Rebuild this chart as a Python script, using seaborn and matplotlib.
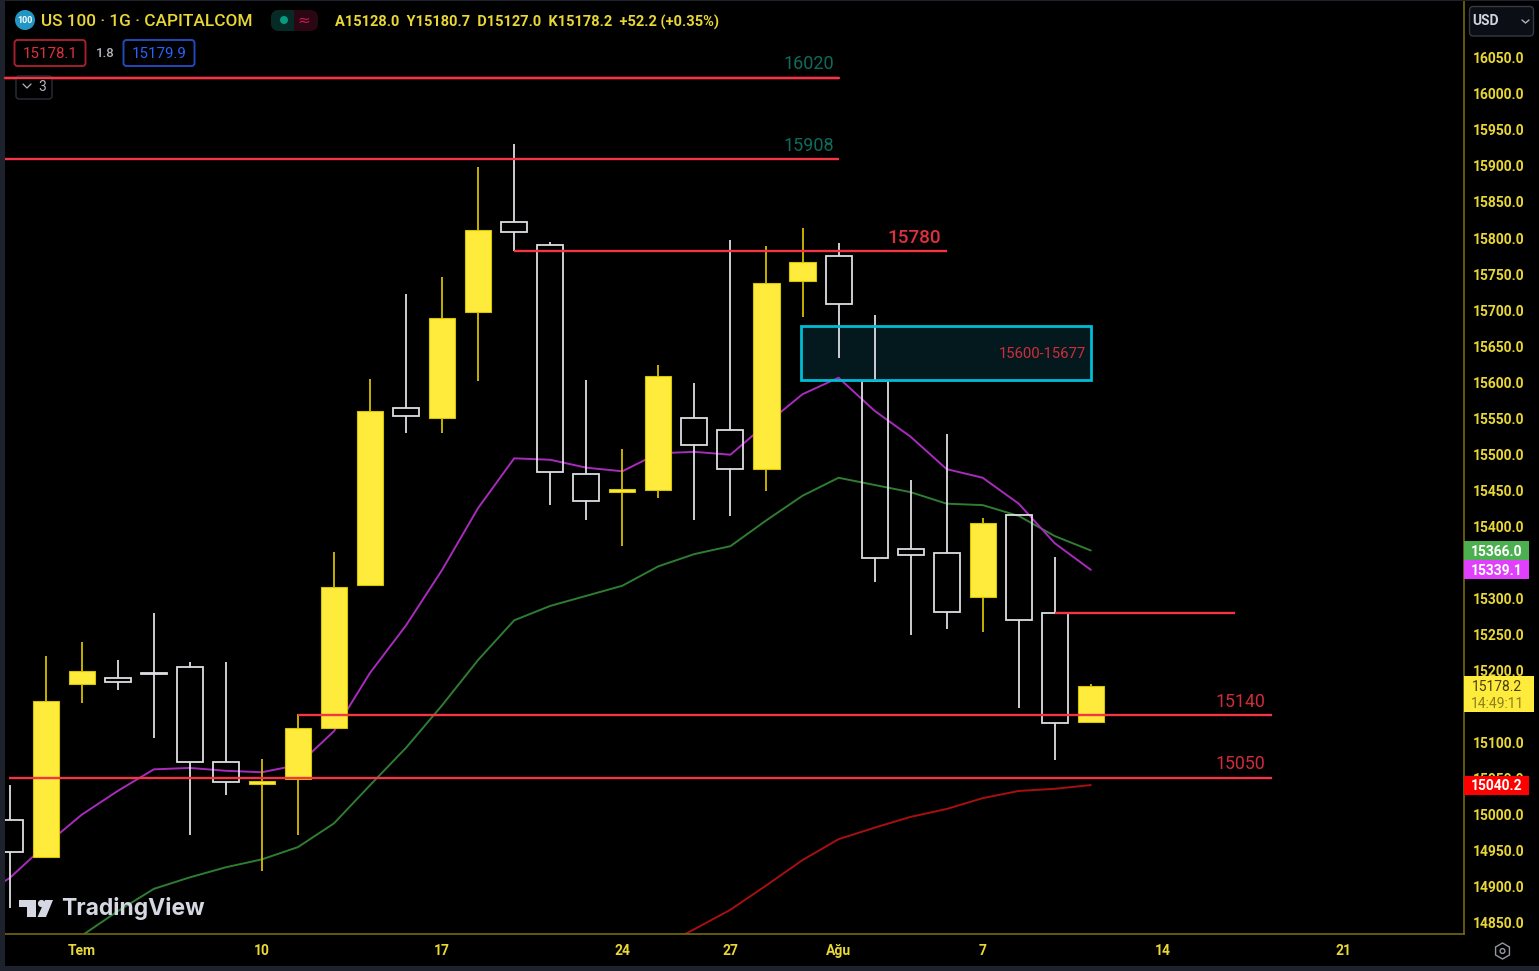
import numpy as np
import pandas as pd
import matplotlib
matplotlib.use("Agg")
import matplotlib.pyplot as plt
import seaborn as sns
from matplotlib.patches import Rectangle, FancyBboxPatch, Circle, Polygon, RegularPolygon

# ---- candles (first one is cut off by the left edge) ----
candle_idx = list(range(-2, 29))
opens = [14992, 14940, 15181, 15189, 15196, 15204, 15072, 15042, 15049, 15119, 15318, 15564, 15550, 15697,
         15822, 15790, 15472, 15447, 15450, 15550, 15533, 15479, 15740, 15775, 15601, 15368, 15362, 15301,
         15415, 15279, 15128]
highs = [15040, 15219, 15239, 15214, 15279, 15211, 15211, 15076, 15139, 15364, 15604, 15722, 15746, 15899,
         15931, 15794, 15603, 15507, 15624, 15599, 15797, 15789, 15814, 15793, 15693, 15464, 15528, 15411,
         15415, 15357, 15181]
lows = [14869, 14940, 15154, 15172, 15105, 14971, 15026, 14921, 14971, 15119, 15318, 15529, 15529, 15601,
        15782, 15429, 15408, 15372, 15439, 15408, 15414, 15449, 15690, 15633, 15322, 15249, 15257, 15253,
        15147, 15075, 15127]
closes = [14947, 15157, 15199, 15183, 15194, 15072, 15044, 15046, 15119, 15315, 15560, 15553, 15689, 15811,
          15808, 15475, 15435, 15451, 15608, 15513, 15479, 15737, 15767, 15708, 15356, 15360, 15281, 15404,
          15269, 15126, 15178.2]

# ---- moving averages ----
ema_fast_idx = list(range(-3, 29))
ema_fast = [14880, 14911, 14957, 14999, 15032, 15062, 15064, 15060, 15058, 15068, 15115, 15196, 15262, 15339,
            15425, 15494, 15492, 15481, 15476, 15501, 15503, 15499, 15542, 15583, 15606, 15560, 15524, 15479,
            15467, 15431, 15376, 15339.1]
ema_mid_idx = list(range(0, 29))
ema_mid = [14831, 14865, 14896, 14912, 14926, 14937, 14954, 14987, 15040, 15092, 15151, 15214, 15269, 15289,
           15303, 15317, 15344, 15361, 15372, 15408, 15442, 15467, 15457, 15447, 15431, 15429, 15414, 15386,
           15366.0]
ema_slow_idx = list(range(16, 29))
ema_slow = [14814, 14840, 14867, 14901, 14936, 14965, 14981, 14996, 15007, 15022, 15032, 15035, 15040.2]

# ---- drawn levels: price, first x, last x ----
level_prices = [16022, 15910, 15782, 15279, 15137.5, 15050]
level_starts = [-2.3, -2.3, 12, 27, 6, -2.03]
level_ends = [21, 21, 24, 32, 33.03, 33.03]
zone_low, zone_high = 15603, 15678
zone_x = (19.97, 28.0)

y_ticks = list(range(14850, 16051, 50))
hidden_ticks = [15150, 15350]  # covered by the price tags
x_tick_pos = [0, 5, 10, 15, 18, 21, 25, 30, 35]
x_tick_labels = ["Tem", "10", "17", "24", "27", "Ağu", "7", "14", "21"]

YEL = "#e8d735"
BODY = "#ffeb3b"
WICK_Y = "#d4bd00"
WHITE = "#dcdee3"
RED = "#f23645"
TXT_RED = "#d02c3c"
AXIS = "#75680f"

W, H = 1539, 971
PX_ZERO = 81.7
PX_STEP = 36.04
PX_PER_PRICE = 0.72

sns.set_theme(style="dark", rc={"axes.facecolor": "black", "figure.facecolor": "black"})
plt.rcParams["font.family"] = ["Roboto", "DejaVu Sans"]

fig = plt.figure(figsize=(W / 100, H / 100), dpi=100)
ax = fig.add_axes([5 / W, (H - 934) / H, 1459 / W, 934 / H])
ax.set_xlim((5 - PX_ZERO) / PX_STEP, (1464 - PX_ZERO) / PX_STEP)
ax.set_ylim(16050 - (934 - 58) / PX_PER_PRICE, 16050 + 58 / PX_PER_PRICE)

df = pd.DataFrame({"i": candle_idx, "o": opens, "h": highs, "l": lows, "c": closes})
df["up"] = df["c"] >= df["o"]
df["top"] = df[["o", "c"]].max(axis=1)
df["bot"] = df[["o", "c"]].min(axis=1)

# zone fill sits behind the candles, outline goes on top
ax.add_patch(Rectangle((zone_x[0], zone_low), zone_x[1] - zone_x[0], zone_high - zone_low,
                       facecolor="#04191e", edgecolor="none", zorder=1))

# ---- averages ----
sns.lineplot(x=ema_mid_idx, y=ema_mid, color="#2f7d32", lw=1.4, ax=ax, zorder=2, estimator=None)
sns.lineplot(x=ema_slow_idx, y=ema_slow, color="#a80f0f", lw=1.4, ax=ax, zorder=2, estimator=None)
sns.lineplot(x=ema_fast_idx, y=ema_fast, color="#a92bbd", lw=1.4, ax=ax, zorder=2, estimator=None)

# ---- candles ----
for up, wick_c in [(True, WICK_Y), (False, WHITE)]:
    part = df[df["up"] == up]
    ax.vlines(part["i"], part["top"], part["h"], color=wick_c, lw=1.3, zorder=3)
    ax.vlines(part["i"], part["l"], part["bot"], color=wick_c, lw=1.3, zorder=3)

up_df = df[df["up"]]
down_df = df[~df["up"]]
ax.bar(up_df["i"], up_df["top"] - up_df["bot"], bottom=up_df["bot"], width=0.73,
       facecolor=BODY, edgecolor="#d9c400", lw=0.8, zorder=4)
ax.bar(down_df["i"], down_df["top"] - down_df["bot"], bottom=down_df["bot"], width=0.72,
       facecolor="none", edgecolor=WHITE, lw=1.3, zorder=4)

# ---- levels ----
ax.hlines(level_prices, level_starts, level_ends, color=RED, lw=1.7, zorder=5)
ax.add_patch(Rectangle((zone_x[0], zone_low), zone_x[1] - zone_x[0], zone_high - zone_low,
                       facecolor="none", edgecolor="#00bcd4", lw=2, zorder=5))

ax.text(20.17, 16042, "16020", color="#0d6b5b", fontsize=13, ha="center", va="center")
ax.text(20.17, 15928, "15908", color="#0d6b5b", fontsize=13, ha="center", va="center")
ax.text(23.1, 15800, "15780", color="#e0303f", fontsize=13.6, ha="center", va="center", weight="medium")
ax.text(27.88, 15639, "15600-15677", color=TXT_RED, fontsize=10.7, ha="right", va="center")
ax.text(32.83, 15156, "15140", color=TXT_RED, fontsize=12.8, ha="right", va="center")
ax.text(32.83, 15070, "15050", color=TXT_RED, fontsize=12.8, ha="right", va="center")

# ---- axes ----
ax.set_xlabel("")
ax.set_ylabel("")
ax.grid(False)
ax.set_yticks(y_ticks)
ax.set_yticklabels(["" if v in hidden_ticks else f"{v:.1f}" for v in y_ticks])
ax.yaxis.tick_right()
ax.set_xticks(x_tick_pos)
ax.set_xticklabels(x_tick_labels)
ax.tick_params(axis="y", length=0, pad=6.3, labelsize=10, labelcolor=YEL)
ax.tick_params(axis="x", length=0, pad=7.5, labelsize=10, labelcolor=YEL)
for lab in ax.get_yticklabels() + ax.get_xticklabels():
    lab.set_fontweight("bold")
for side in ["left", "top"]:
    ax.spines[side].set_visible(False)
for side in ["right", "bottom"]:
    ax.spines[side].set_color(AXIS)
    ax.spines[side].set_linewidth(1.2)
    ax.spines[side].set_visible(True)

# ---- price tags on the scale ----
ytrans = ax.get_yaxis_transform()
tag_w = 65 / 1459
tag_h = 19 / PX_PER_PRICE
for value, colour in [(15366.0, "#4caf50"), (15339.1, "#e040fb"), (15040.2, "#ff0000")]:
    ax.add_patch(Rectangle((1.0, value - tag_h / 2), tag_w, tag_h, transform=ytrans, facecolor=colour,
                           edgecolor="none", clip_on=False, zorder=6))
    ax.text(1 + 33 / 1459, value - 1.5, f"{value:.1f}", transform=ytrans, color="white", fontsize=10,
            weight="bold", ha="center", va="center", zorder=7)
ax.add_patch(Rectangle((1.0, 15141.7), 70 / 1459, 50, transform=ytrans, facecolor=BODY,
                       edgecolor="none", clip_on=False, zorder=6))
ax.text(1 + 33 / 1459, 15177, "15178.2", transform=ytrans, color="#45400c", fontsize=10, ha="center",
        va="center", zorder=7)
ax.text(1 + 33 / 1459, 15153, "14:49:11", transform=ytrans, color="#8a7f1c", fontsize=10, ha="center",
        va="center", zorder=7)

# ---- chrome, placed in screen pixels ----
ui = fig.add_axes([0, 0, 1, 1], zorder=10)
ui.set_xlim(0, W)
ui.set_ylim(H, 0)
ui.axis("off")
ui.patch.set_alpha(0)

ui.add_patch(Rectangle((0, 0), 4.5, H, facecolor="#1e222d", edgecolor="none"))
ui.add_patch(Rectangle((0, 0), W, 1.5, facecolor="#1e222d", edgecolor="none"))
ui.add_patch(Rectangle((0, 966), W, 5, facecolor="#1e222d", edgecolor="none"))

ui.add_patch(Circle((25, 20), 10, facecolor="#2196c4", edgecolor="none"))
ui.text(25, 20.5, "100", color="white", fontsize=6.5, weight="bold", ha="center", va="center")
ui.text(41, 21, "US 100 · 1G · CAPITALCOM", color=YEL, fontsize=12.45, ha="left", va="center", weight="medium")
ui.text(335, 22, "A15128.0  Y15180.7  D15127.0  K15178.2  +52.2 (+0.35%)", color=YEL, fontsize=10.5,
        ha="left", va="center", weight="bold")

# status pill
ui.add_patch(FancyBboxPatch((271, 10), 47, 21, boxstyle="round,pad=0,rounding_size=8", facecolor="#2b0714",
                            edgecolor="none"))
ui.add_patch(FancyBboxPatch((271, 10), 30, 21, boxstyle="round,pad=0,rounding_size=8", facecolor="#062b26",
                            edgecolor="none"))
ui.add_patch(Rectangle((294, 10), 10, 21, facecolor="#2b0714", edgecolor="none"))
ui.add_patch(Circle((284, 20), 4, facecolor="#089981", edgecolor="none"))
ui.text(304, 20, "≈", color="#c2185b", fontsize=11, ha="center", va="center", family=["DejaVu Sans"])

# bid / ask boxes
ui.add_patch(FancyBboxPatch((14.5, 40), 71, 26, boxstyle="round,pad=0,rounding_size=3", facecolor="black",
                            edgecolor="#a51f2d", lw=1.4))
ui.text(50.5, 54.5, "15178.1", color="#e0303f", fontsize=10.8, ha="center", va="center")
ui.text(105, 53.5, "1.8", color="#b2b5be", fontsize=9.5, ha="center", va="center", weight="medium")
ui.add_patch(FancyBboxPatch((123.5, 40), 71, 26, boxstyle="round,pad=0,rounding_size=3", facecolor="black",
                            edgecolor="#1f4bb8", lw=1.4))
ui.text(159.5, 54.5, "15179.9", color="#2962ff", fontsize=10.8, ha="center", va="center")

# collapsed indicators button
ui.add_patch(FancyBboxPatch((16, 76), 36, 23, boxstyle="round,pad=0,rounding_size=3", facecolor="black",
                            edgecolor="#2a2e39", lw=1))
ui.plot([23, 27, 31], [84, 88, 84], color="#b2b5be", lw=0.9)
ui.text(42, 87, "3", color="#b2b5be", fontsize=10, ha="center", va="center")
ui.plot([5, 838.5], [78, 78], color=RED, lw=1.7)

# currency button
ui.add_patch(FancyBboxPatch((1469.5, 6.5), 64, 29.5, boxstyle="round,pad=0,rounding_size=4", facecolor="#0c0e15",
                            edgecolor="#363a45", lw=1))
ui.text(1486, 21, "USD", color="#d1d4dc", fontsize=10, weight="bold", ha="center", va="center")
ui.plot([1522, 1525.5, 1529], [20, 23, 20], color="#b2b5be", lw=1)

# settings icon
ui.add_patch(RegularPolygon((1502.5, 951), 6, radius=8, facecolor="none", edgecolor="#9598a1", lw=1))
ui.add_patch(Circle((1502.5, 951), 2.4, facecolor="none", edgecolor="#9598a1", lw=1))

# watermark
logo_c = "#d5d8e2"
ui.add_patch(Polygon([(18.5, 900), (36, 900), (36, 917), (27, 917), (27, 907), (18.5, 907)], facecolor=logo_c,
                     edgecolor="none"))
ui.add_patch(Circle((41.5, 903.5), 3.6, facecolor=logo_c, edgecolor="none"))
ui.add_patch(Polygon([(45, 900), (53, 900), (46, 917), (37.5, 917)], facecolor=logo_c, edgecolor="none"))
ui.text(61.5, 909, "TradingView", color=logo_c, fontsize=16.5, weight="bold", ha="left", va="center",
        family=["Inter", "DejaVu Sans"])

fig.savefig("out.png", dpi=100, facecolor="black")
